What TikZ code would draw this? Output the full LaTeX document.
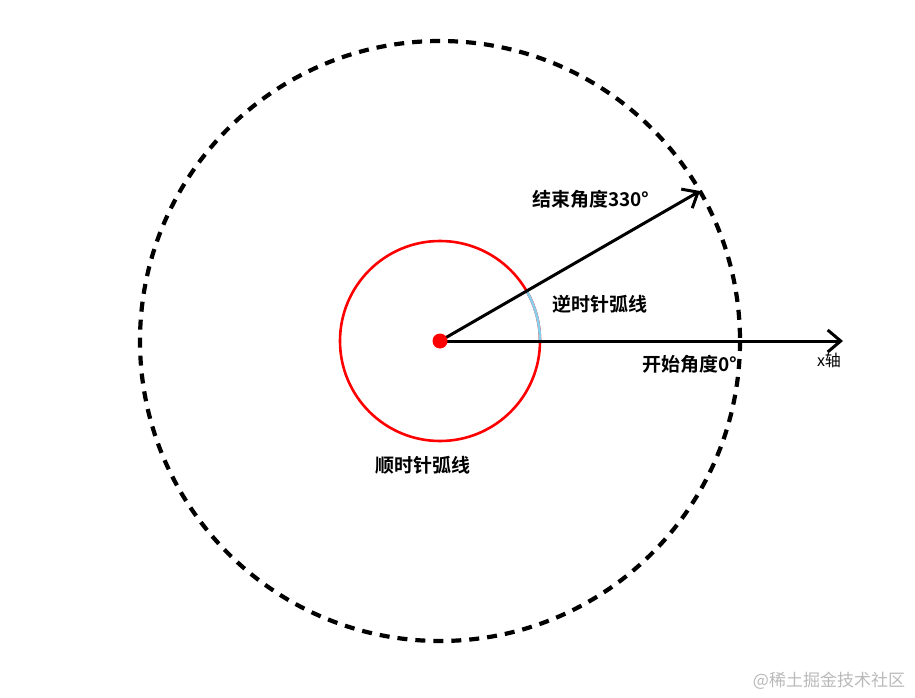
\documentclass[tikz,border=0pt]{standalone}
\usepackage{fontspec}
\newfontfamily\cjk{Noto Sans CJK SC}
\newfontfamily\cjkb{Noto Sans CJK SC Bold}
\usetikzlibrary{arrows.meta}
\definecolor{arcblue}{RGB}{135,206,235}
\definecolor{wmgray}{RGB}{185,185,185}
\tikzset{
  lbl/.style={font=\cjkb\fontsize{19}{22}\selectfont, inner sep=0pt},
  axis/.style={line width=3pt, -{Straight Barb[length=13pt,width=22pt,line width=3pt]}},
}
\begin{document}
\begin{tikzpicture}[x=1pt,y=-1pt]
\useasboundingbox (0,0) rectangle (915,698);
\coordinate (O) at (440,341);
\coordinate (E) at (700,191);
\coordinate (X) at (843,341);
% dashed outer circle
\draw[line width=4.2pt, dash pattern=on 10pt off 8pt] (O) circle[radius=300];
% red circle
\draw[red, line width=2.6pt] (O) circle[radius=100];
% blue arc 0..30 deg (upwards)
\draw[arcblue, line width=2.6pt] (540,341) arc[start angle=0, end angle=-30, radius=100];
% arrows
\draw[axis] (O) -- (E);
\draw[axis] (O) -- (X);
\fill[red] (O) circle[radius=7.5];
% labels
\node[lbl] (l1) at (591,199) {结束角度330°};
\node[lbl] (l2) at (600,304) {逆时针弧线};
\node[lbl] (l3) at (690,364) {开始角度0°};
\node[lbl] (l4) at (423,465) {顺时针弧线};
\node[font=\cjk\fontsize{16}{18}\selectfont, inner sep=0pt] (l5) at (829,360) {x轴};
\node[font=\cjk\fontsize{17}{20}\selectfont, text=wmgray, inner sep=0pt] (wm) at (829,681) {@稀土掘金技术社区};
\end{tikzpicture}
\end{document}
